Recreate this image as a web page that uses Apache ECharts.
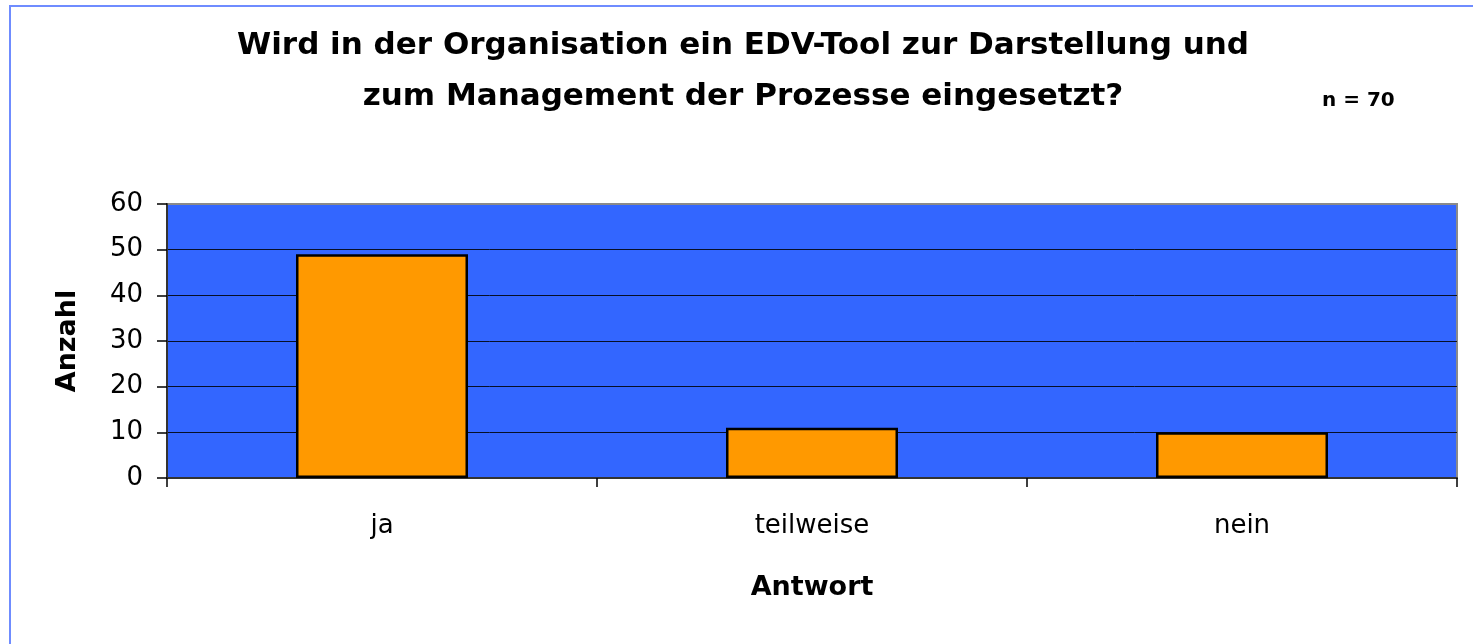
<!DOCTYPE html>
<html>
<head>
<meta charset="utf-8">
<title>EDV-Tool Prozesse</title>
<script src="https://cdn.jsdelivr.net/npm/echarts@6/dist/echarts.min.js"></script>
<style>
    html, body { margin: 0; padding: 0; background: #fff; overflow: hidden; }
    #frame {
        position: absolute; left: 9px; top: 5px;
        width: 1600px; height: 800px;
        border: 2px solid #6f8cff;
    }
    #main { position: absolute; left: 0; top: 0; width: 1473px; height: 644px; }
</style>
</head>
<body>
<div id="frame"></div>
<div id="main"></div>
<script>
// Daten aus der Abbildung
var categories = ['ja', 'teilweise', 'nein'];
var anzahl = [49, 11, 10];
var yTicks = { min: 0, max: 60, interval: 10 };
var titleLines = ['Wird in der Organisation ein EDV-Tool zur Darstellung und',
                  'zum Management der Prozesse eingesetzt?'];
var sampleNote = 'n = 70';

var myChart = echarts.init(document.getElementById('main'));
var option = {
    backgroundColor: 'transparent',
    animation: false,
    title: {
        text: titleLines.join('\n'),
        left: 738,
        top: 15,
        textAlign: 'center',
        textStyle: {
            fontFamily: 'DejaVu Sans',
            fontWeight: 'bold',
            fontSize: 31,
            lineHeight: 51,
            color: '#000'
        }
    },
    graphic: [{
        type: 'text',
        left: 1322,
        top: 91,
        style: {
            text: sampleNote,
            font: 'bold 20px "DejaVu Sans"',
            fill: '#000'
        }
    }],
    grid: {
        left: 167,
        right: 16,
        top: 204,
        bottom: 166,
        show: true,
        backgroundColor: '#3366ff',
        borderColor: '#8a8a8a',
        borderWidth: 2
    },
    xAxis: {
        type: 'category',
        data: categories,
        name: 'Antwort',
        nameLocation: 'middle',
        nameGap: 96,
        nameTextStyle: {
            fontFamily: 'DejaVu Sans',
            fontWeight: 'bold',
            fontSize: 27,
            color: '#000'
        },
        axisLine: { lineStyle: { color: '#333', width: 2 } },
        axisTick: { show: true, length: 9, lineStyle: { color: '#000', width: 1.5 } },
        axisLabel: {
            margin: 35,
            fontFamily: 'DejaVu Sans',
            fontSize: 26,
            color: '#000'
        }
    },
    yAxis: {
        type: 'value',
        min: yTicks.min,
        max: yTicks.max,
        interval: yTicks.interval,
        name: 'Anzahl',
        nameLocation: 'middle',
        nameRotate: 90,
        nameGap: 86,
        nameTextStyle: {
            fontFamily: 'DejaVu Sans',
            fontWeight: 'bold',
            fontSize: 27,
            color: '#000'
        },
        axisLine: { show: true, lineStyle: { color: '#333', width: 2 } },
        axisTick: { show: true, length: 10, lineStyle: { color: '#000', width: 1.5 } },
        axisLabel: {
            margin: 24,
            fontFamily: 'DejaVu Sans',
            fontSize: 26,
            color: '#000'
        },
        splitLine: {
            showMaxLine: false,
            lineStyle: { color: '#000', width: 1, opacity: 0.85 }
        }
    },
    series: [{
        type: 'bar',
        data: anzahl,
        barWidth: '40%',
        itemStyle: {
            color: '#ff9900',
            borderColor: '#000',
            borderWidth: 2.5
        }
    }]
};
myChart.setOption(option);
</script>
</body>
</html>
